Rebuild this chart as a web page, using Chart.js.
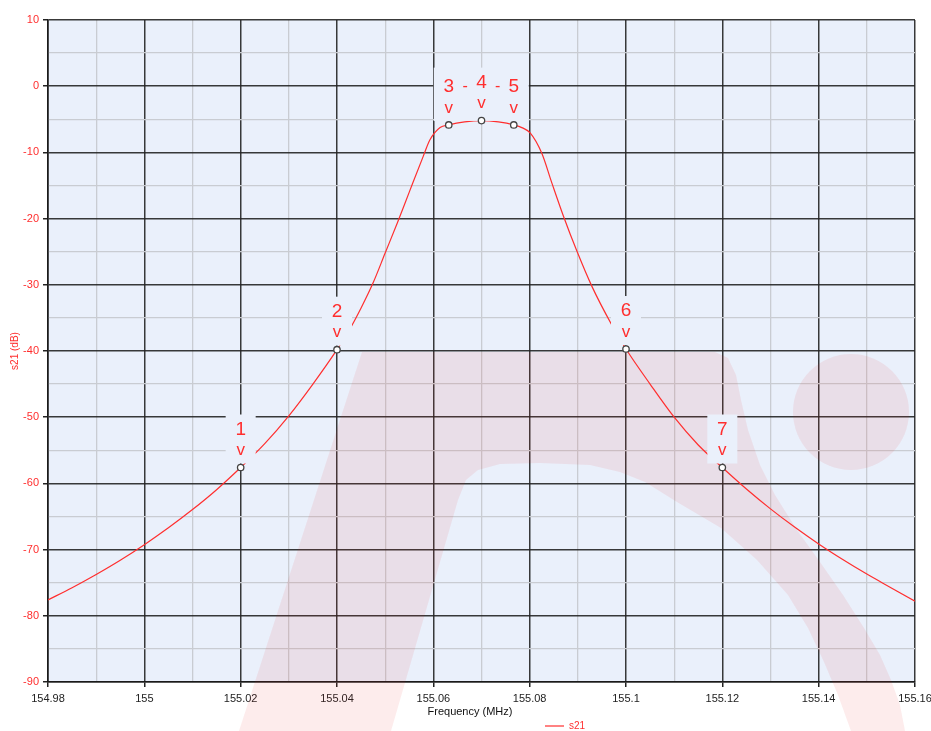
<!DOCTYPE html>
<html>
<head>
<meta charset="utf-8">
<style>
  html, body { margin: 0; padding: 0; background: #ffffff; }
  #wrap { width: 931px; height: 731px; position: relative; }
  canvas { display: block; }
</style>
<script src="https://cdn.jsdelivr.net/npm/chart.js@4.4.1/dist/chart.umd.min.js"></script>
</head>
<body>
<div id="wrap"><canvas id="c" width="931" height="731"></canvas></div>
<script>
// ---- data ----
const freqMHz = [154.98, 154.985, 154.99, 154.995, 155.00, 155.005, 155.01, 155.015, 155.02, 155.025,
  155.03, 155.035, 155.04, 155.0425, 155.045, 155.0475, 155.05, 155.0525, 155.055, 155.0579,
  155.0593, 155.0614, 155.0632, 155.0665, 155.07, 155.0735, 155.0767, 155.0785, 155.0801, 155.0825,
  155.0846, 155.087, 155.0898, 155.0929, 155.097, 155.10, 155.105, 155.11, 155.115, 155.12,
  155.125, 155.13, 155.135, 155.14, 155.145, 155.15, 155.155, 155.16];
const s21dB = [-77.6, -75.75, -73.75, -71.6, -69.25, -66.7, -63.95, -60.95, -57.6, -54.0,
  -49.8, -45.0, -39.8, -36.9, -33.5, -29.7, -25.2, -20.7, -16.0, -10.6,
  -8.1, -6.25, -5.85, -5.4, -5.2, -5.4, -5.85, -6.3, -7.05, -10.1,
  -14.6, -19.6, -24.9, -30.2, -36.0, -39.7, -45.0, -50.0, -54.2, -57.6,
  -60.85, -63.85, -66.6, -69.15, -71.5, -73.7, -75.75, -77.8];

const markerFreq = [155.02, 155.04, 155.0632, 155.07, 155.0767, 155.10, 155.12];
const markerS21 = [-57.6, -39.8, -5.85, -5.2, -5.85, -39.7, -57.6];
const markerLabels = ['1', '2', '3', '4', '5', '6', '7'];

const xMin = 154.98, xMax = 155.16, xStep = 0.01;
const yMin = -90, yMax = 10, yStep = 5;

const xTitle = 'Frequency (MHz)';
const yTitle = 's21 (dB)';
const seriesName = 's21';

// ---- styles ----
const RED = '#ff2e2e';
const PLOT_BG = '#eaf0fb';
const MAJOR = 'rgba(35,35,35,0.9)';
const MINOR = '#c9ccd2';
const FONT = '"Liberation Sans", Arial, Helvetica, sans-serif';

function isMajorX(v) { return Math.round(v * 100) % 2 === 0; }
function isMajorY(v) { return Math.round(v) % 10 === 0; }

function drawWatermark(ctx) {
  ctx.save();
  ctx.fillStyle = 'rgba(235,30,40,0.085)';
  ctx.beginPath();
  const outer = [[239,731],[362,352],[715,352],[728,358],[736,375],[741,400],[748,430],[760,465],
    [775,495],[797,530],[820,562],[843,595],[864,628],[880,655],[891,680],[900,705],[905,731]];
  const inner = [[851,731],[838,695],[824,662],[808,628],[788,595],[757,560],[721,528],[677,502],
    [645,482],[620,472],[590,465],[540,463],[500,464],[478,470],[466,480],[458,500],[391,731]];
  outer.concat(inner).forEach((p, i) => i ? ctx.lineTo(p[0], p[1]) : ctx.moveTo(p[0], p[1]));
  ctx.closePath();
  ctx.fill();
  ctx.beginPath();
  ctx.arc(851, 412, 58, 0, Math.PI * 2);
  ctx.fill();
  ctx.restore();
}

function drawMarkerLabels(chart) {
  const xs = chart.scales.x, ys = chart.scales.y, ctx = chart.ctx;
  const pts = markerFreq.map((f, i) => ({ x: xs.getPixelForValue(f), y: ys.getPixelForValue(markerS21[i]), t: markerLabels[i] }));
  const groups = [];
  pts.forEach(p => {
    const g = groups[groups.length - 1];
    if (g && p.x - g[g.length - 1].x < 45) g.push(p); else groups.push([p]);
  });
  ctx.save();
  groups.forEach(g => {
    const left = g[0].x - 15, right = g[g.length - 1].x + 15;
    const top = Math.min(...g.map(p => p.y)) - 53;
    const bottom = Math.max(...g.map(p => p.y)) - 4;
    ctx.fillStyle = PLOT_BG;
    ctx.fillRect(left, top, right - left, bottom - top);
    ctx.fillStyle = RED;
    ctx.textAlign = 'center';
    ctx.textBaseline = 'middle';
    g.forEach((p, i) => {
      ctx.font = '19px ' + FONT;
      ctx.fillText(p.t, p.x, p.y - 38);
      ctx.font = '17px ' + FONT;
      ctx.fillText('v', p.x, p.y - 17);
      if (i > 0) {
        const q = g[i - 1];
        ctx.font = '16px ' + FONT;
        ctx.fillText('-', (p.x + q.x) / 2, Math.max(p.y, q.y) - 38);
      }
    });
  });
  ctx.restore();
}

const decor = {
  id: 'decor',
  beforeDraw(chart) {
    const { ctx, chartArea: a } = chart;
    ctx.save();
    ctx.fillStyle = PLOT_BG;
    ctx.fillRect(a.left, a.top, a.right - a.left, a.bottom - a.top);
    ctx.restore();
  },
  beforeDatasetsDraw(chart) { drawWatermark(chart.ctx); },
  afterDatasetDraw(chart, args) { if (args.index === 0) drawMarkerLabels(chart); },
  afterDraw(chart) {
    const ctx = chart.ctx;
    ctx.save();
    ctx.fillStyle = '#111';
    ctx.font = '11px ' + FONT;
    ctx.textAlign = 'center';
    ctx.textBaseline = 'middle';
    ctx.fillText(xTitle, 470, 712);
    // legend
    ctx.strokeStyle = RED;
    ctx.lineWidth = 1.2;
    ctx.beginPath();
    ctx.moveTo(545, 726); ctx.lineTo(564, 726);
    ctx.stroke();
    ctx.fillStyle = RED;
    ctx.font = '10px ' + FONT;
    ctx.textAlign = 'left';
    ctx.fillText(seriesName, 569, 726.5);
    ctx.restore();
  }
};

new Chart(document.getElementById('c'), {
  type: 'scatter',
  data: {
    datasets: [
      {
        label: seriesName,
        data: freqMHz.map((f, i) => ({ x: f, y: s21dB[i] })),
        showLine: true,
        borderColor: RED,
        borderWidth: 1.2,
        pointRadius: 0,
        cubicInterpolationMode: 'monotone',
        order: 2
      },
      {
        label: 'markers',
        data: markerFreq.map((f, i) => ({ x: f, y: markerS21[i] })),
        showLine: false,
        pointRadius: 3.2,
        pointBackgroundColor: '#ffffff',
        pointBorderColor: '#444',
        pointBorderWidth: 1.3,
        order: 1
      }
    ]
  },
  options: {
    responsive: false,
    animation: false,
    devicePixelRatio: 1,
    layout: { padding: { top: 20, right: 16, bottom: 0, left: 0 } },
    plugins: { legend: { display: false }, tooltip: { enabled: false } },
    scales: {
      x: {
        type: 'linear',
        min: xMin, max: xMax,
        afterFit(s) { s.height = 49; s.paddingLeft = 0; s.paddingRight = 0; },
        border: { color: '#1a1a1a', width: 1.6 },
        grid: {
          color: c => isMajorX(c.tick.value) ? MAJOR : MINOR,
          lineWidth: c => isMajorX(c.tick.value) ? 1.5 : 1.3,
          tickColor: c => isMajorX(c.tick.value) ? '#222' : 'rgba(0,0,0,0)',
          tickLength: 5
        },
        ticks: {
          stepSize: xStep,
          autoSkip: false,
          maxRotation: 0,
          padding: 5,
          color: '#222',
          font: { family: FONT, size: 11 },
          callback: v => isMajorX(v) ? String(parseFloat(Number(v).toFixed(2))) : ''
        },
        title: { display: false }
      },
      y: {
        type: 'linear',
        min: yMin, max: yMax,
        afterFit(s) { s.width = 48; s.paddingTop = 0; s.paddingBottom = 0; },
        border: { color: '#1a1a1a', width: 1.6 },
        grid: {
          color: c => isMajorY(c.tick.value) ? MAJOR : MINOR,
          lineWidth: c => isMajorY(c.tick.value) ? 1.5 : 1.3,
          tickColor: c => isMajorY(c.tick.value) ? '#222' : 'rgba(0,0,0,0)',
          tickLength: 5
        },
        ticks: {
          stepSize: yStep,
          autoSkip: false,
          padding: 4,
          color: RED,
          font: { family: FONT, size: 11 },
          callback: v => isMajorY(v) ? String(v) : ''
        },
        title: {
          display: true,
          text: yTitle,
          color: RED,
          font: { family: FONT, size: 10 },
          padding: { top: 9, bottom: 0 }
        }
      }
    }
  },
  plugins: [decor]
});
</script>
</body>
</html>
